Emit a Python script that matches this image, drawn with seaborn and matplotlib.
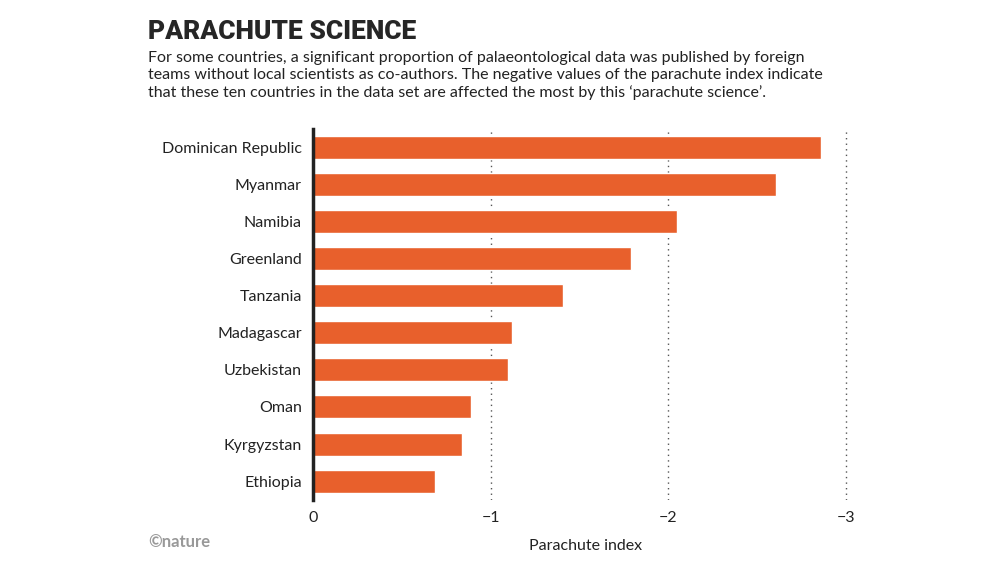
import matplotlib
matplotlib.use("Agg")
import matplotlib.pyplot as plt
import seaborn as sns
import pandas as pd

countries = ["Dominican Republic", "Myanmar", "Namibia", "Greenland", "Tanzania",
             "Madagascar", "Uzbekistan", "Oman", "Kyrgyzstan", "Ethiopia"]
index_values = [-2.86, -2.61, -2.05, -1.79, -1.41, -1.12, -1.10, -0.89, -0.84, -0.69]
ticks = [0, -1, -2, -3]
tick_labels = ["0", "\u22121", "\u22122", "\u22123"]

df = pd.DataFrame({"country": countries, "value": index_values})

sns.set_style("white")
plt.rcParams["font.family"] = ["Lato", "DejaVu Sans"]

fig = plt.figure(figsize=(10, 5.75), dpi=100)
ax = fig.add_axes([0.313, 0.131, 0.545, 0.645])

sns.barplot(data=df, x="value", y="country", color="#E8602C", width=0.62,
            saturation=1, ax=ax, zorder=3)

ax.set_xlim(0, -3.07)
ax.set_xticks(ticks)
ax.set_xticklabels(tick_labels, fontsize=11.5, color="#222222")
ax.tick_params(axis="x", length=0, pad=8)
ax.tick_params(axis="y", length=0, pad=8, labelsize=11.5, labelcolor="#222222")
for t in ticks[1:]:
    ax.axvline(t, color="#555555", linestyle=(0, (1, 3)), linewidth=1, zorder=1)
for s in ["top", "right", "bottom"]:
    ax.spines[s].set_visible(False)
ax.spines["left"].set_linewidth(2.5)
ax.spines["left"].set_color("#222222")
ax.spines["left"].set_zorder(5)
ax.set_ylabel("")
ax.set_xlabel("Parachute index", fontsize=11.5, color="#222222", labelpad=10)

fig.text(0.148, 0.945, "PARACHUTE SCIENCE", fontsize=19, fontweight="heavy",
         family=["Roboto", "DejaVu Sans"], va="center", stretch="condensed")
fig.text(0.148, 0.912, "For some countries, a significant proportion of palaeontological data was published by foreign\n"
         "teams without local scientists as co-authors. The negative values of the parachute index indicate\n"
         "that these ten countries in the data set are affected the most by this \u2018parachute science\u2019.",
         fontsize=11.5, va="top", linespacing=1.3, color="#222222")
fig.text(0.148, 0.057, "\u00a9nature", fontsize=12, color="#999999", fontweight="bold", va="center")

fig.savefig("out.png", dpi=100)
